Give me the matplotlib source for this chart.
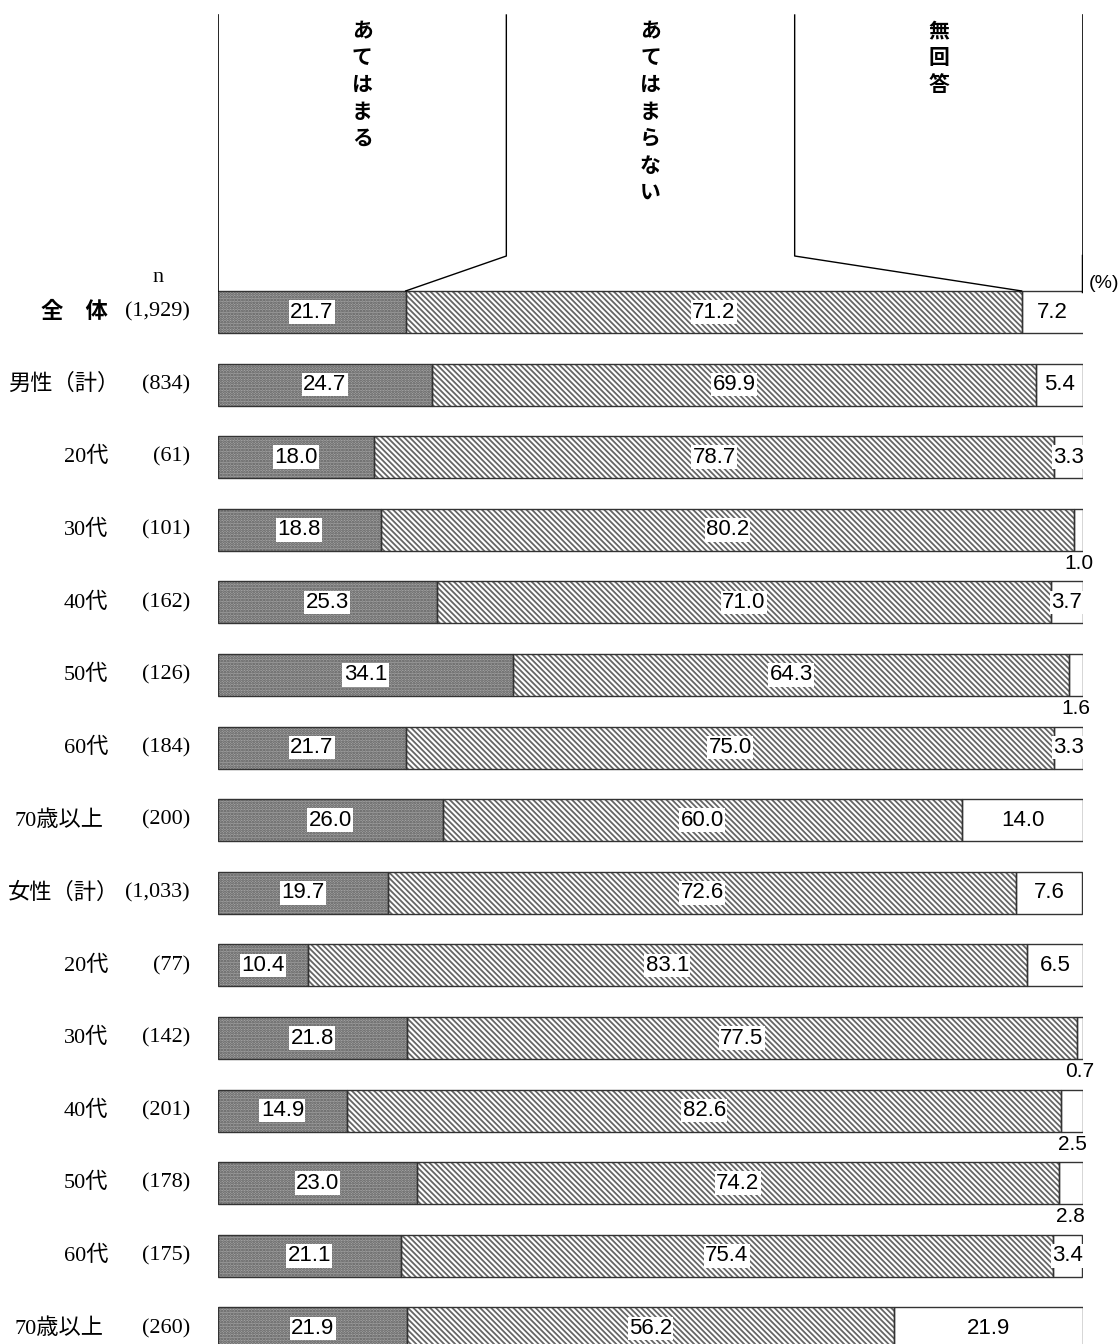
import matplotlib.pyplot as plt

# data
groups = ["全　体", "男性（計）", "20代", "30代", "40代", "50代", "60代", "70歳以上",
          "女性（計）", "20代", "30代", "40代", "50代", "60代", "70歳以上"]
counts = ["(1,929)", "(834)", "(61)", "(101)", "(162)", "(126)", "(184)", "(200)",
          "(1,033)", "(77)", "(142)", "(201)", "(178)", "(175)", "(260)"]
applies = [21.7, 24.7, 18.0, 18.8, 25.3, 34.1, 21.7, 26.0,
           19.7, 10.4, 21.8, 14.9, 23.0, 21.1, 21.9]
not_applies = [71.2, 69.9, 78.7, 80.2, 71.0, 64.3, 75.0, 60.0,
               72.6, 83.1, 77.5, 82.6, 74.2, 75.4, 56.2]
no_answer = [7.2, 5.4, 3.3, 1.0, 3.7, 1.6, 3.3, 14.0,
             7.6, 6.5, 0.7, 2.5, 2.8, 3.4, 21.9]
headers = ["あてはまる", "あてはまらない", "無回答"]

W, H = 1120, 1344
x0, x1 = 218, 1083          # pixel span of 0..100 %
row0, pitch = 312, 72.6     # pixel centre of first row, row spacing
bar_h = 0.58

fig = plt.figure(figsize=(W / 100, H / 100), dpi=100)
ax = fig.add_axes([x0 / W, 0, (x1 - x0) / W, 1])
ax.set_xlim(0, 100)
ax.set_ylim((H - row0) / pitch, -row0 / pitch)
ax.axis("off")
plt.rcParams["hatch.linewidth"] = 1.3

def py(p):  # pixel y -> row units
    return (p - row0) / pitch

def px(p):  # pixel x -> percent
    return (p - x0) / (x1 - x0) * 100

num_font = ["Liberation Sans Narrow", "Liberation Sans", "DejaVu Sans"]
lab_font = ["Liberation Serif", "Noto Sans CJK JP"]
jp_font = ["Noto Sans CJK JP", "DejaVu Sans"]

ys = list(range(len(groups)))
left2 = list(applies)
left3 = [a + b for a, b in zip(applies, not_applies)]

# segment fills (hatch drawn in edge colour, outline added separately)
ax.barh(ys, applies, height=bar_h, color="#a4a4a4", edgecolor="#5a5a5a",
        hatch="......", linewidth=0)
ax.barh(ys, not_applies, left=left2, height=bar_h, color="white",
        edgecolor="#666666", hatch="\\\\\\\\\\\\", linewidth=0)
ax.barh(ys, no_answer, left=left3, height=bar_h, color="white", linewidth=0)
for vals, lefts in [(applies, [0] * len(ys)), (not_applies, left2), (no_answer, left3)]:
    ax.barh(ys, vals, left=lefts, height=bar_h, fill=False,
            edgecolor="#333333", linewidth=1.0)

# value labels
for i in ys:
    for v, l in [(applies[i], 0), (not_applies[i], left2[i]), (no_answer[i], left3[i])]:
        cx = l + v / 2
        if v < 3:
            ax.text(cx, i + bar_h / 2 + 0.04, f"{v:.1f}", ha="center", va="top",
                    fontsize=15, family=num_font)
        else:
            ax.text(cx, i, f"{v:.1f}", ha="center", va="center", fontsize=16,
                    family=num_font,
                    bbox=dict(facecolor="white", edgecolor="none", pad=1.0))

# row labels on the left (full-width brackets carry half an em of blank space)
for i in ys:
    g = groups[i]
    right = 119 if g.endswith("）") else (103 if g.startswith("70") else 108)
    ax.text(px(right), i, g, ha="right", va="center", fontsize=16,
            family=lab_font, fontweight="bold" if i == 0 else "normal",
            clip_on=False)
    ax.text(px(190), i, counts[i], ha="right", va="center", fontsize=16,
            family=lab_font, clip_on=False)
ax.text(px(158), py(278), "n", ha="center", va="center", fontsize=16,
        family=lab_font)
ax.text(px(1104), py(284), "(%)", ha="center", va="center", fontsize=14,
        family=num_font, clip_on=False)

# header boxes with vertical captions and leader lines to the first bar
top, knee, bar_top = py(15), py(256), -bar_h / 2
ax.plot([0, 0], [top, bar_top], color="black", lw=1.2)
ax.plot([100, 100], [top, bar_top], color="black", lw=1.2)
ax.plot([100, 100], [knee, bar_top], color="black", lw=2.5)
ax.plot([100 / 3, 100 / 3, applies[0]], [top, knee, bar_top], color="black", lw=1.0)
ax.plot([200 / 3, 200 / 3, left3[0]], [top, knee, bar_top], color="black", lw=1.0)
for k, h in enumerate(headers):
    ax.text(100 / 6 + k * 100 / 3, py(20), "\n".join(h), ha="center", va="top",
            fontsize=15, fontweight="bold", family=jp_font, linespacing=1.35)

fig.savefig("out.png", dpi=100)
